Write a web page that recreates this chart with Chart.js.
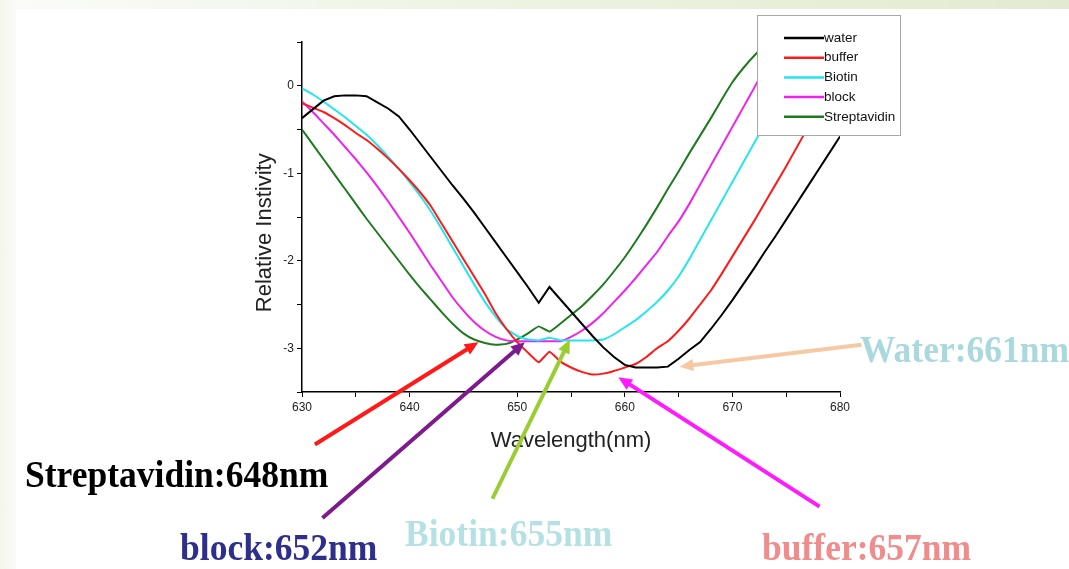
<!DOCTYPE html>
<html>
<head>
<meta charset="utf-8">
<script src="https://cdn.jsdelivr.net/npm/chart.js"></script>
<style>
  body { margin: 0; background: #fff; }
  #wrap { position: relative; width: 1069px; height: 569px; overflow: hidden; background: #fff; }
  #topband { position: absolute; left: 0; top: 0; width: 1069px; height: 9px;
    background: linear-gradient(to right, #fbfcf8 0%, #eef3e3 45%, #e2ebcf 100%); }
  #leftband { position: absolute; left: 0; top: 0; width: 16px; height: 569px;
    background: linear-gradient(to right, #f3f6ec, #fafbf7); }
  canvas { position: absolute; left: 0; top: 0; }
  .lbl { position: absolute; font-family: "Liberation Serif", "Times New Roman", serif;
    font-weight: bold; font-size: 38px; line-height: 1; white-space: nowrap;
    transform: scaleX(0.935); transform-origin: left top; }
</style>
</head>
<body>
<div id="wrap">
  <div id="topband"></div>
  <div id="leftband"></div>
  <canvas id="chart-line" width="1069" height="569"></canvas>
  <div class="lbl" style="left:25px;top:455px;color:#000;">Streptavidin:648nm</div>
  <div class="lbl" style="left:860px;top:330px;color:#a9d9dd;">Water:661nm</div>
  <div class="lbl" style="left:180px;top:528px;color:#2e2e8c;">block:652nm</div>
  <div class="lbl" style="left:405px;top:514px;color:#b6e1e4;">Biotin:655nm</div>
  <div class="lbl" style="left:762px;top:528px;color:#f08c8c;">buffer:657nm</div>
</div>
<script>
// wavelength (nm)
var wavelength = [630, 631, 632, 633, 634, 635, 636, 637, 638, 639,
                  640, 641, 642, 643, 644, 645, 646, 647, 648, 649,
                  650, 651, 652, 653, 654, 655, 656, 657, 658, 659,
                  660, 661, 662, 663, 664, 665, 666, 667, 668, 669,
                  670, 671, 672, 673, 674, 675, 676, 677, 678, 679, 680]

var water = [-0.37, -0.27, -0.17, -0.12, -0.11, -0.11, -0.12, -0.19, -0.26, -0.35,
             -0.5, -0.66, -0.82, -0.98, -1.14, -1.29, -1.45, -1.62, -1.79, -1.96,
             -2.13, -2.3, -2.48, -2.3, -2.44, -2.58, -2.72, -2.86, -2.99, -3.1,
             -3.19, -3.22, -3.22, -3.22, -3.21, -3.12, -3.02, -2.93, -2.78, -2.62,
             -2.45, -2.27, -2.09, -1.9, -1.72, -1.53, -1.34, -1.15, -0.96, -0.77, -0.58]

var buffer = [-0.2, -0.25, -0.3, -0.37, -0.45, -0.54, -0.62, -0.72, -0.83, -0.95,
              -1.08, -1.22, -1.38, -1.58, -1.78, -1.98, -2.18, -2.38, -2.6, -2.78,
              -2.93, -3.05, -3.16, -3.04, -3.15, -3.22, -3.27, -3.3, -3.29, -3.26,
              -3.22, -3.18, -3.1, -3.0, -2.92, -2.8, -2.66, -2.5, -2.34, -2.15,
              -1.95, -1.75, -1.55, -1.34, -1.13, -0.92, -0.7, -0.48, -0.26, -0.04, 0.18]

var biotin = [-0.03, -0.1, -0.18, -0.27, -0.36, -0.46, -0.56, -0.68, -0.81, -0.95,
              -1.1, -1.26, -1.44, -1.64, -1.85, -2.06, -2.27, -2.47, -2.64, -2.78,
              -2.86, -2.9, -2.91, -2.88, -2.91, -2.91, -2.91, -2.91, -2.9, -2.84,
              -2.76, -2.68, -2.58, -2.47, -2.34, -2.18, -1.98, -1.76, -1.54, -1.32,
              -1.1, -0.88, -0.66, -0.44, -0.22, 0.0, 0.22, 0.44, 0.6, 0.75, 0.9]

var block = [-0.18, -0.3, -0.43, -0.56, -0.7, -0.84, -0.99, -1.15, -1.32, -1.5,
             -1.68, -1.87, -2.06, -2.24, -2.42, -2.57, -2.7, -2.8, -2.87, -2.91,
             -2.92, -2.92, -2.92, -2.92, -2.92, -2.87, -2.8, -2.71, -2.6, -2.47,
             -2.34, -2.2, -2.05, -1.9, -1.72, -1.55, -1.35, -1.13, -0.91, -0.69,
             -0.47, -0.25, -0.03, 0.2, 0.42, 0.6, 0.75, 0.9, 1.0, 1.1, 1.2]

var streptavidin = [-0.5, -0.67, -0.84, -1.01, -1.18, -1.35, -1.52, -1.68, -1.84, -2.0,
                    -2.16, -2.31, -2.45, -2.59, -2.72, -2.83, -2.9, -2.94, -2.96, -2.95,
                    -2.9, -2.83, -2.75, -2.81, -2.72, -2.62, -2.52, -2.4, -2.27, -2.12,
                    -1.96, -1.78, -1.59, -1.39, -1.18, -0.98, -0.77, -0.57, -0.37, -0.16,
                    0.04, 0.2, 0.34, 0.46, 0.58, 0.7, 0.82, 0.94, 1.05, 1.15, 1.25]

var seriesNames = ['water', 'buffer', 'Biotin', 'block', 'Streptavidin']
var seriesColors = ['#000000', '#ff1a1a', '#22e6ee', '#ee22ee', '#1f7a1f']
var seriesValues = [water, buffer, biotin, block, streptavidin]
var seriesTension = [0, 0.12, 0.12, 0.12, 0.12]

// peak arrows: tail and tip as [nm, value]
var arrowColors = ['#ff1a1a', '#7d1a8c', '#9acd32', '#ff1aff', '#f6c9a2']
var arrowTails = [[631.2, -4.1], [631.9, -4.94], [647.7, -4.72], [678.1, -4.81], [682.0, -2.96]]
var arrowTips = [[646.4, -2.93], [650.7, -2.93], [654.9, -2.9], [659.4, -3.33], [665.1, -3.21]]

var datasets = seriesNames.map(function (name, i) {
    return {
        label: name,
        data: wavelength.map(function (w, j) { return { x: w, y: seriesValues[i][j] } }),
        borderColor: seriesColors[i],
        backgroundColor: seriesColors[i],
        borderWidth: 2,
        pointRadius: 0,
        tension: seriesTension[i],
        fill: false
    }
})

var arrowPlugin = {
    id: 'arrows',
    afterDraw: function (chart) {
        var ctx = chart.ctx
        var xs = chart.scales.x, ys = chart.scales.y
        ctx.save()
        arrowTails.forEach(function (t, i) {
            var x1 = xs.getPixelForValue(t[0]), y1 = ys.getPixelForValue(t[1])
            var x2 = xs.getPixelForValue(arrowTips[i][0]), y2 = ys.getPixelForValue(arrowTips[i][1])
            var ang = Math.atan2(y2 - y1, x2 - x1)
            var head = 15
            ctx.strokeStyle = arrowColors[i]
            ctx.fillStyle = arrowColors[i]
            ctx.lineWidth = 4
            ctx.beginPath()
            ctx.moveTo(x1, y1)
            ctx.lineTo(x2 - Math.cos(ang) * head * 0.8, y2 - Math.sin(ang) * head * 0.8)
            ctx.stroke()
            ctx.beginPath()
            ctx.moveTo(x2, y2)
            ctx.lineTo(x2 - head * Math.cos(ang - 0.42), y2 - head * Math.sin(ang - 0.42))
            ctx.lineTo(x2 - head * Math.cos(ang + 0.42), y2 - head * Math.sin(ang + 0.42))
            ctx.closePath()
            ctx.fill()
        })
        ctx.restore()
    }
}

// y axis title sits a bit below the middle of the axis in the original
var yTitlePlugin = {
    id: 'yTitle',
    afterDraw: function (chart) {
        var ctx = chart.ctx
        var ys = chart.scales.y
        ctx.save()
        ctx.translate(ys.left + 17, ys.getPixelForValue(-1.68))
        ctx.rotate(-Math.PI / 2)
        ctx.font = '22px "Liberation Sans", Arial, sans-serif'
        ctx.fillStyle = '#222'
        ctx.textAlign = 'center'
        ctx.textBaseline = 'middle'
        ctx.fillText('Relative Instivity', 0, 0)
        ctx.restore()
    }
}

var legendPlugin = {
    id: 'boxLegend',
    afterDraw: function (chart) {
        var ctx = chart.ctx
        var bx = 757, by = 15, bw = 143, bh = 120
        ctx.save()
        ctx.fillStyle = '#fff'
        ctx.fillRect(bx, by, bw, bh)
        ctx.strokeStyle = '#a8a8a8'
        ctx.lineWidth = 1
        ctx.strokeRect(bx + 0.5, by + 0.5, bw, bh)
        ctx.font = '13.5px "Liberation Sans", Arial, sans-serif'
        ctx.textBaseline = 'middle'
        chart.data.datasets.forEach(function (ds, i) {
            var y = by + 23 + i * 19.7
            ctx.strokeStyle = ds.borderColor
            ctx.lineWidth = 2.5
            ctx.beginPath()
            ctx.moveTo(bx + 27, y)
            ctx.lineTo(bx + 67, y)
            ctx.stroke()
            ctx.fillStyle = '#111'
            ctx.fillText(ds.label, bx + 67, y)
        })
        ctx.restore()
    }
}

var ctx = document.getElementById('chart-line')
var myLineChart = new Chart(ctx, {
    type: 'line',
    data: { datasets: datasets },
    options: {
        responsive: false,
        animation: false,
        layout: { padding: { left: 248, right: 229, top: 42, bottom: 111 } },
        plugins: {
            legend: { display: false },
            tooltip: { enabled: false }
        },
        scales: {
            x: {
                type: 'linear',
                min: 630,
                max: 680,
                afterFit: function (scale) { scale.height = 66 },
                ticks: {
                    stepSize: 5,
                    maxRotation: 0,
                    color: '#222',
                    font: { family: '"Liberation Sans", Arial, sans-serif', size: 12 },
                    callback: function (v) { return v % 10 === 0 ? v : '' }
                },
                grid: { drawOnChartArea: false, tickLength: 5, color: '#000' },
                border: { color: '#000', width: 1.5 },
                title: {
                    display: true,
                    text: 'Wavelength(nm)',
                    color: '#222',
                    font: { family: '"Liberation Sans", Arial, sans-serif', size: 22 }
                }
            },
            y: {
                min: -3.5,
                max: 0.5,
                afterFit: function (scale) { scale.width = 54 },
                ticks: {
                    stepSize: 0.5,
                    color: '#222',
                    font: { family: '"Liberation Sans", Arial, sans-serif', size: 12 },
                    callback: function (v) { return Number.isInteger(v) ? v : '' }
                },
                grid: { drawOnChartArea: false, tickLength: 5, color: '#000' },
                border: { color: '#000', width: 1.5 },
                title: { display: false }
            }
        }
    },
    plugins: [arrowPlugin, yTitlePlugin, legendPlugin]
})
</script>
</body>
</html>
